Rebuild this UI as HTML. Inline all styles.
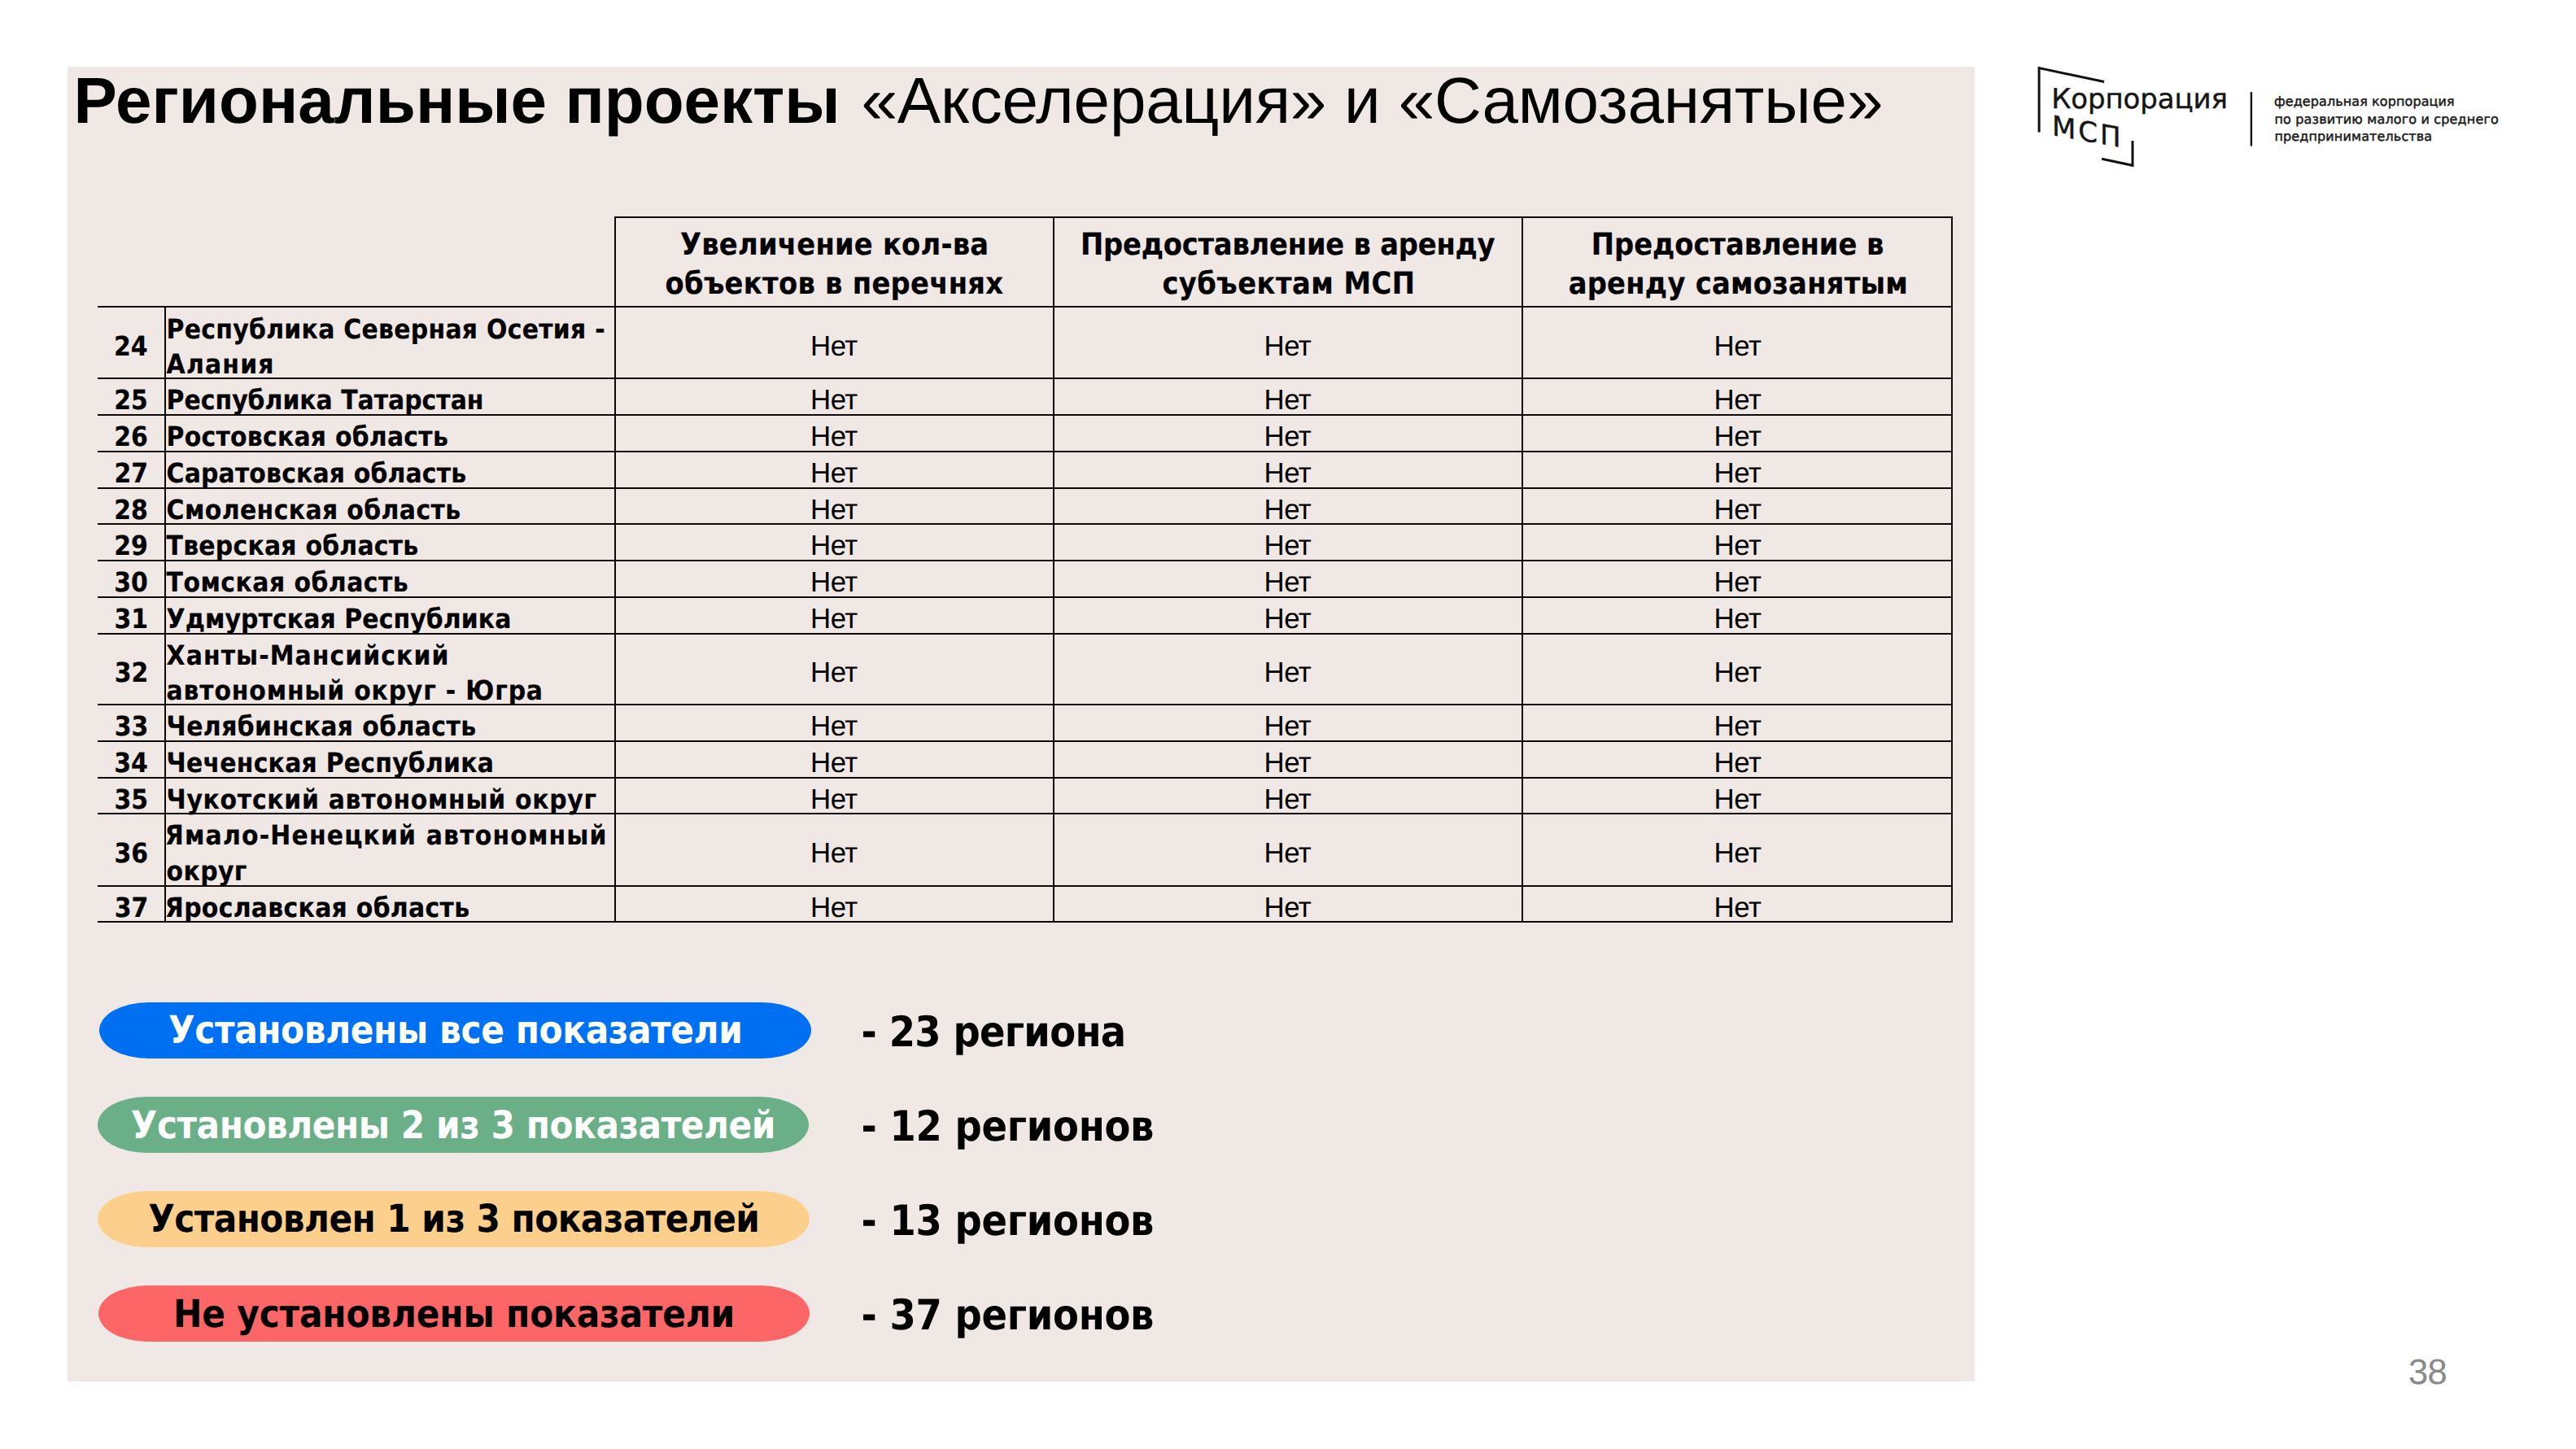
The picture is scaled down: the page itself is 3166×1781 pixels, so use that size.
<!DOCTYPE html>
<html lang="ru"><head><meta charset="utf-8">
<title>Региональные проекты «Акселерация» и «Самозанятые»</title>
<style>
html,body{margin:0;padding:0;background:#fff}
html{width:3166px;height:1781px}
body{width:3166px;height:1781px;position:relative;font-family:"Liberation Sans",sans-serif;color:#000;text-rendering:geometricPrecision}
*{box-sizing:border-box}
.panel{position:absolute;left:83px;top:82px;width:2344px;height:1616px;background:#F0E8E5}
.title{position:absolute;margin:0;font-weight:400;white-space:nowrap;line-height:1}
.title b{font-weight:700}
table.grid{position:absolute;border-collapse:separate;border-spacing:0;table-layout:fixed}
table.grid td,table.grid th{padding:0;margin:0;vertical-align:top;border:0 solid #0e0909;border-right-width:2px;border-bottom-width:2px;overflow:visible;white-space:nowrap}
table.grid th{font-weight:700;text-align:center;font-size:37.5px;font-family:"DejaVu Sans Condensed","DejaVu Sans","Liberation Sans",sans-serif;-webkit-text-stroke:0.2px #000}
table.grid th.h{border-top-width:2px}
table.grid td{font-size:33.2px}
table.grid td.n{font-weight:700;text-align:center;font-family:"DejaVu Sans Condensed","DejaVu Sans","Liberation Sans",sans-serif;-webkit-text-stroke:0.2px #000}
table.grid td.r{font-weight:700;text-align:left;font-family:"DejaVu Sans Condensed","DejaVu Sans","Liberation Sans",sans-serif;-webkit-text-stroke:0.2px #000}
table.grid td.v{font-weight:400;text-align:center;font-size:34.8px}
.c{height:0;position:relative;overflow:visible}
.pill{position:absolute;display:block;font-weight:700;white-space:nowrap;text-align:center;font-family:"DejaVu Sans Condensed","DejaVu Sans","Liberation Sans",sans-serif}
.cnt{position:absolute;font-weight:700;white-space:nowrap;line-height:1;font-family:"DejaVu Sans Condensed","DejaVu Sans","Liberation Sans",sans-serif}
.logo{position:absolute;left:2490px;top:70px;width:620px;height:150px}
.logo svg{position:absolute;left:0;top:0}
.logo span{position:absolute;white-space:nowrap;line-height:1;color:#161616;font-family:"DejaVu Sans","Liberation Sans",sans-serif;-webkit-text-stroke:0.45px #161616}
.logo span.s{-webkit-text-stroke:0.5px #1c1c1c;color:#1c1c1c}
.pageno{position:absolute;white-space:nowrap;line-height:1;color:#8a8a8a}

</style></head><body>
<div class="panel"></div>
<h1 class="title" style="left:90.6px;top:84px;font-size:80px"><b style="letter-spacing:0.03px">Региональные проекты</b> <span style="position:absolute;left:967.9px;top:0;letter-spacing:-0.19px">«Акселерация» и «Самозанятые»</span></h1>
<table class="grid" style="left:120px;top:266px;width:2280px">
<colgroup><col style="width:84px"><col style="width:553px"><col style="width:539px"><col style="width:576px"><col style="width:528px"></colgroup>
<thead><tr style="height:112px">
<th colspan="2"></th>
<th class="h"><div class="c" style="top:9px;left:0.2px;line-height:47px;letter-spacing:0.25px">Увеличение кол-ва</div><div class="c" style="top:57px;left:0.0px;line-height:47px;letter-spacing:0.31px">объектов в перечнях</div></th>
<th class="h"><div class="c" style="top:9px;left:-0.3px;line-height:47px;letter-spacing:-0.20px">Предоставление в аренду</div><div class="c" style="top:57px;left:0.9px;line-height:47px;letter-spacing:0.47px">субъектам МСП</div></th>
<th class="h"><div class="c" style="top:9px;left:0.6px;line-height:47px;letter-spacing:-0.02px">Предоставление в</div><div class="c" style="top:57px;left:1.4px;line-height:47px;letter-spacing:0.27px">аренду самозанятым</div></th>
</tr></thead><tbody>
<tr style="height:88px">
<td class="n"><div class="c" style="top:27px;left:-0.2px;line-height:42px">24</div></td>
<td class="r"><div class="c" style="top:6px;left:0.6px;line-height:42px;letter-spacing:0.30px">Республика Северная Осетия -</div><div class="c" style="top:49px;left:0.6px;line-height:42px;letter-spacing:1.21px">Алания</div></td>
<td class="v"><div class="c" style="top:27px;left:-0.6px;line-height:42px;letter-spacing:-0.49px">Нет</div></td>
<td class="v"><div class="c" style="top:27px;left:-0.6px;line-height:42px;letter-spacing:-0.49px">Нет</div></td>
<td class="v"><div class="c" style="top:27px;left:0.5px;line-height:42px;letter-spacing:-0.49px">Нет</div></td>
</tr>
<tr style="height:45px">
<td class="n"><div class="c" style="top:5px;left:0.1px;line-height:42px">25</div></td>
<td class="r"><div class="c" style="top:5px;left:0.6px;line-height:42px;letter-spacing:0.02px">Республика Татарстан</div></td>
<td class="v"><div class="c" style="top:5px;left:-0.6px;line-height:42px;letter-spacing:-0.49px">Нет</div></td>
<td class="v"><div class="c" style="top:5px;left:-0.6px;line-height:42px;letter-spacing:-0.49px">Нет</div></td>
<td class="v"><div class="c" style="top:5px;left:0.5px;line-height:42px;letter-spacing:-0.49px">Нет</div></td>
</tr>
<tr style="height:45px">
<td class="n"><div class="c" style="top:5px;left:0.1px;line-height:42px">26</div></td>
<td class="r"><div class="c" style="top:5px;left:0.6px;line-height:42px;letter-spacing:0.26px">Ростовская область</div></td>
<td class="v"><div class="c" style="top:5px;left:-0.6px;line-height:42px;letter-spacing:-0.49px">Нет</div></td>
<td class="v"><div class="c" style="top:5px;left:-0.6px;line-height:42px;letter-spacing:-0.49px">Нет</div></td>
<td class="v"><div class="c" style="top:5px;left:0.5px;line-height:42px;letter-spacing:-0.49px">Нет</div></td>
</tr>
<tr style="height:45px">
<td class="n"><div class="c" style="top:5px;left:0.3px;line-height:42px">27</div></td>
<td class="r"><div class="c" style="top:5px;left:0.6px;line-height:42px;letter-spacing:0.18px">Саратовская область</div></td>
<td class="v"><div class="c" style="top:5px;left:-0.6px;line-height:42px;letter-spacing:-0.49px">Нет</div></td>
<td class="v"><div class="c" style="top:5px;left:-0.6px;line-height:42px;letter-spacing:-0.49px">Нет</div></td>
<td class="v"><div class="c" style="top:5px;left:0.5px;line-height:42px;letter-spacing:-0.49px">Нет</div></td>
</tr>
<tr style="height:44px">
<td class="n"><div class="c" style="top:5px;left:0.1px;line-height:42px">28</div></td>
<td class="r"><div class="c" style="top:5px;left:0.6px;line-height:42px;letter-spacing:0.41px">Смоленская область</div></td>
<td class="v"><div class="c" style="top:5px;left:-0.6px;line-height:42px;letter-spacing:-0.49px">Нет</div></td>
<td class="v"><div class="c" style="top:5px;left:-0.6px;line-height:42px;letter-spacing:-0.49px">Нет</div></td>
<td class="v"><div class="c" style="top:5px;left:0.5px;line-height:42px;letter-spacing:-0.49px">Нет</div></td>
</tr>
<tr style="height:45px">
<td class="n"><div class="c" style="top:5px;left:0.1px;line-height:42px">29</div></td>
<td class="r"><div class="c" style="top:5px;left:0.6px;line-height:42px;letter-spacing:0.25px">Тверская область</div></td>
<td class="v"><div class="c" style="top:5px;left:-0.6px;line-height:42px;letter-spacing:-0.49px">Нет</div></td>
<td class="v"><div class="c" style="top:5px;left:-0.6px;line-height:42px;letter-spacing:-0.49px">Нет</div></td>
<td class="v"><div class="c" style="top:5px;left:0.5px;line-height:42px;letter-spacing:-0.49px">Нет</div></td>
</tr>
<tr style="height:45px">
<td class="n"><div class="c" style="top:5px;left:0.1px;line-height:42px">30</div></td>
<td class="r"><div class="c" style="top:5px;left:0.6px;line-height:42px;letter-spacing:0.49px">Томская область</div></td>
<td class="v"><div class="c" style="top:5px;left:-0.6px;line-height:42px;letter-spacing:-0.49px">Нет</div></td>
<td class="v"><div class="c" style="top:5px;left:-0.6px;line-height:42px;letter-spacing:-0.49px">Нет</div></td>
<td class="v"><div class="c" style="top:5px;left:0.5px;line-height:42px;letter-spacing:-0.49px">Нет</div></td>
</tr>
<tr style="height:45px">
<td class="n"><div class="c" style="top:5px;left:0.3px;line-height:42px">31</div></td>
<td class="r"><div class="c" style="top:5px;left:0.6px;line-height:42px;letter-spacing:0.12px">Удмуртская Республика</div></td>
<td class="v"><div class="c" style="top:5px;left:-0.6px;line-height:42px;letter-spacing:-0.49px">Нет</div></td>
<td class="v"><div class="c" style="top:5px;left:-0.6px;line-height:42px;letter-spacing:-0.49px">Нет</div></td>
<td class="v"><div class="c" style="top:5px;left:0.5px;line-height:42px;letter-spacing:-0.49px">Нет</div></td>
</tr>
<tr style="height:87px">
<td class="n"><div class="c" style="top:26px;left:0.6px;line-height:42px">32</div></td>
<td class="r"><div class="c" style="top:5px;left:0.6px;line-height:42px;letter-spacing:1.10px">Ханты-Мансийский</div><div class="c" style="top:48px;left:0.6px;line-height:42px;letter-spacing:0.84px">автономный округ - Югра</div></td>
<td class="v"><div class="c" style="top:26px;left:-0.6px;line-height:42px;letter-spacing:-0.49px">Нет</div></td>
<td class="v"><div class="c" style="top:26px;left:-0.6px;line-height:42px;letter-spacing:-0.49px">Нет</div></td>
<td class="v"><div class="c" style="top:26px;left:0.5px;line-height:42px;letter-spacing:-0.49px">Нет</div></td>
</tr>
<tr style="height:45px">
<td class="n"><div class="c" style="top:5px;left:0.6px;line-height:42px">33</div></td>
<td class="r"><div class="c" style="top:5px;left:0.6px;line-height:42px;letter-spacing:0.43px">Челябинская область</div></td>
<td class="v"><div class="c" style="top:5px;left:-0.6px;line-height:42px;letter-spacing:-0.49px">Нет</div></td>
<td class="v"><div class="c" style="top:5px;left:-0.6px;line-height:42px;letter-spacing:-0.49px">Нет</div></td>
<td class="v"><div class="c" style="top:5px;left:0.5px;line-height:42px;letter-spacing:-0.49px">Нет</div></td>
</tr>
<tr style="height:45px">
<td class="n"><div class="c" style="top:5px;left:0.1px;line-height:42px">34</div></td>
<td class="r"><div class="c" style="top:5px;left:0.6px;line-height:42px;letter-spacing:0.26px">Чеченская Республика</div></td>
<td class="v"><div class="c" style="top:5px;left:-0.6px;line-height:42px;letter-spacing:-0.49px">Нет</div></td>
<td class="v"><div class="c" style="top:5px;left:-0.6px;line-height:42px;letter-spacing:-0.49px">Нет</div></td>
<td class="v"><div class="c" style="top:5px;left:0.5px;line-height:42px;letter-spacing:-0.49px">Нет</div></td>
</tr>
<tr style="height:44px">
<td class="n"><div class="c" style="top:5px;left:0.3px;line-height:42px">35</div></td>
<td class="r"><div class="c" style="top:5px;left:0.6px;line-height:42px;letter-spacing:0.72px">Чукотский автономный округ</div></td>
<td class="v"><div class="c" style="top:5px;left:-0.6px;line-height:42px;letter-spacing:-0.49px">Нет</div></td>
<td class="v"><div class="c" style="top:5px;left:-0.6px;line-height:42px;letter-spacing:-0.49px">Нет</div></td>
<td class="v"><div class="c" style="top:5px;left:0.5px;line-height:42px;letter-spacing:-0.49px">Нет</div></td>
</tr>
<tr style="height:89px">
<td class="n"><div class="c" style="top:27px;left:0.3px;line-height:42px">36</div></td>
<td class="r"><div class="c" style="top:5px;left:-1.2px;line-height:42px;letter-spacing:1.19px">Ямало-Ненецкий автономный</div><div class="c" style="top:49px;left:0.6px;line-height:42px;letter-spacing:0.38px">округ</div></td>
<td class="v"><div class="c" style="top:27px;left:-0.6px;line-height:42px;letter-spacing:-0.49px">Нет</div></td>
<td class="v"><div class="c" style="top:27px;left:-0.6px;line-height:42px;letter-spacing:-0.49px">Нет</div></td>
<td class="v"><div class="c" style="top:27px;left:0.5px;line-height:42px;letter-spacing:-0.49px">Нет</div></td>
</tr>
<tr style="height:44px">
<td class="n"><div class="c" style="top:5px;left:0.6px;line-height:42px">37</div></td>
<td class="r"><div class="c" style="top:5px;left:-1.2px;line-height:42px;letter-spacing:0.32px">Ярославская область</div></td>
<td class="v"><div class="c" style="top:5px;left:-0.6px;line-height:42px;letter-spacing:-0.49px">Нет</div></td>
<td class="v"><div class="c" style="top:5px;left:-0.6px;line-height:42px;letter-spacing:-0.49px">Нет</div></td>
<td class="v"><div class="c" style="top:5px;left:0.5px;line-height:42px;letter-spacing:-0.49px">Нет</div></td>
</tr>
</tbody></table>
<div class="legend">
<div class="pill" style="left:122px;top:1232px;width:875px;height:69px;border-radius:60px / 34.5px;background:#0070F3;color:#fff;font-size:47.0px;line-height:69px;letter-spacing:-0.38px"><span style="position:absolute;top:0px;left:85.1px">Установлены все показатели</span></div>
<div class="cnt" style="left:1058.6px;top:1244px;font-size:51.6px;letter-spacing:-0.67px">- 23 региона</div>
<div class="pill" style="left:120px;top:1348px;width:874px;height:69px;border-radius:60px / 34.5px;background:#6AAF87;color:#fff;font-size:47.0px;line-height:69px;letter-spacing:-0.46px"><span style="position:absolute;top:1px;left:40.8px">Установлены 2 из 3 показателей</span></div>
<div class="cnt" style="left:1058.6px;top:1360px;font-size:51.6px;letter-spacing:-0.25px">- 12 регионов</div>
<div class="pill" style="left:120px;top:1464px;width:875px;height:69px;border-radius:60px / 34.5px;background:#FCD08C;color:#000;font-size:47.0px;line-height:69px;letter-spacing:-0.57px"><span style="position:absolute;top:0px;left:62.3px">Установлен 1 из 3 показателей</span></div>
<div class="cnt" style="left:1058.6px;top:1476px;font-size:51.6px;letter-spacing:-0.25px">- 13 регионов</div>
<div class="pill" style="left:121px;top:1580px;width:874px;height:69px;border-radius:60px / 34.5px;background:#FD6666;color:#000;font-size:47.0px;line-height:69px;letter-spacing:-0.14px"><span style="position:absolute;top:1px;left:91.9px">Не установлены показатели</span></div>
<div class="cnt" style="left:1058.6px;top:1592px;font-size:51.6px;letter-spacing:-0.25px">- 37 регионов</div>
</div>
<div class="logo">
<svg width="620" height="150" viewBox="0 0 620 150" fill="none" stroke="#111" stroke-width="3" stroke-linecap="butt" stroke-linejoin="miter">
<path d="M16.1 92.6 L16.1 13.6 L96.1 30.5"/>
<path d="M93.2 125.2 L131.0 133.3 L131.0 103.1"/>
<path d="M276.9 43.1 L276.9 109.5" stroke-width="2.4"/>
</svg>
<span style="left:31.2px;top:34.9px;font-size:34px;letter-spacing:-0.09px">Корпорация</span>
<span style="left:31.7px;top:68.3px;font-size:34px;letter-spacing:2.95px;transform:skewY(10deg);transform-origin:0 28.0px">МСП</span>
<span class="s" style="left:305.0px;top:47.4px;font-size:16px;letter-spacing:0.09px">федеральная корпорация</span>
<span class="s" style="left:305.4px;top:68.9px;font-size:16px;letter-spacing:0.16px">по развитию малого и среднего</span>
<span class="s" style="left:305.4px;top:90.4px;font-size:16px;letter-spacing:0.13px">предпринимательства</span>
</div>
<div class="pageno" style="left:2959.9px;top:1665px;font-size:43.7px;letter-spacing:-0.77px">38</div>
</body></html>
